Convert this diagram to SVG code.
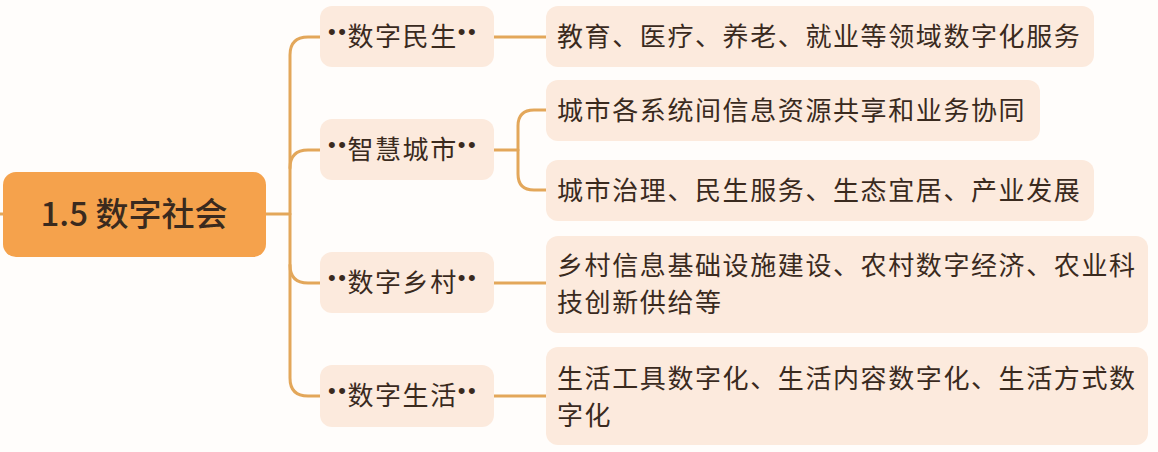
<svg xmlns="http://www.w3.org/2000/svg" width="1158" height="452" viewBox="0 0 1158 452">
<style>
.bg{fill:#fffdfb}
.root{fill:#f5a24c}
.n{fill:#fceadd}
.c{fill:none;stroke:#e3a75a;stroke-width:3;stroke-linecap:round}
text{font-family:"Noto Sans CJK SC","Noto Sans",sans-serif;fill:#3a2a1e}
.t1{font-size:26px;letter-spacing:1.6px}
.t2{font-size:26px;letter-spacing:1.6px}
.t0{font-size:33px;font-weight:500}
.d{font-family:"Liberation Sans",sans-serif;font-size:22px;letter-spacing:2.5px}
</style>
<rect class="bg" width="1158" height="452"/>
<g id="connectors">
<path class="c" d="M0 214 L4 214"/>
<path class="c" d="M266 214 L290 214"/>
<path class="c" d="M320 37 L308 37 Q290 37 290 55 L290 378 Q290 396 308 396 L320 396"/>
<path class="c" d="M290 168 Q290 150 308 150 L320 150"/>
<path class="c" d="M290 265 Q290 283 308 283 L320 283"/>
<path class="c" d="M494 37 L546 37"/>
<path class="c" d="M494 150 L518 150"/>
<path class="c" d="M546 110 L534 110 Q518 110 518 126 L518 174 Q518 190 534 190 L546 190"/>
<path class="c" d="M494 283 L546 283"/>
<path class="c" d="M494 396 L546 396"/>
</g>
<g id="root">
<rect class="root" x="3" y="172" width="263" height="85" rx="13"/>
<text class="t0" x="134" y="226" text-anchor="middle">1.5 数字社会</text>
</g>
<g id="n1">
<rect class="n" x="320" y="6" width="174" height="61" rx="12"/>
<text class="t1" x="328" y="46"><tspan class="d" dy="-7">••</tspan><tspan dy="7" dx="-1">数字民生</tspan><tspan class="d" dy="-7">••</tspan></text>
</g>
<g id="n2">
<rect class="n" x="320" y="119" width="174" height="61" rx="12"/>
<text class="t1" x="328" y="159"><tspan class="d" dy="-7">••</tspan><tspan dy="7" dx="-1">智慧城市</tspan><tspan class="d" dy="-7">••</tspan></text>
</g>
<g id="n3">
<rect class="n" x="320" y="252" width="174" height="61" rx="12"/>
<text class="t1" x="328" y="292"><tspan class="d" dy="-7">••</tspan><tspan dy="7" dx="-1">数字乡村</tspan><tspan class="d" dy="-7">••</tspan></text>
</g>
<g id="n4">
<rect class="n" x="320" y="365" width="174" height="62" rx="12"/>
<text class="t1" x="328" y="405"><tspan class="d" dy="-7">••</tspan><tspan dy="7" dx="-1">数字生活</tspan><tspan class="d" dy="-7">••</tspan></text>
</g>
<g id="l1">
<rect class="n" x="546" y="6" width="548" height="61" rx="12"/>
<text class="t2" x="557" y="46">教育、医疗、养老、就业等领域数字化服务</text>
</g>
<g id="l2">
<rect class="n" x="546" y="80" width="494" height="61" rx="12"/>
<text class="t2" x="557" y="120">城市各系统间信息资源共享和业务协同</text>
</g>
<g id="l3">
<rect class="n" x="546" y="160" width="548" height="61" rx="12"/>
<text class="t2" x="557" y="200">城市治理、民生服务、生态宜居、产业发展</text>
</g>
<g id="l4">
<rect class="n" x="546" y="236" width="602" height="97" rx="12"/>
<text class="t2" x="557" y="275">乡村信息基础设施建设、农村数字经济、农业科</text>
<text class="t2" x="557" y="312">技创新供给等</text>
</g>
<g id="l5">
<rect class="n" x="546" y="347" width="602" height="98" rx="12"/>
<text class="t2" x="557" y="388">生活工具数字化、生活内容数字化、生活方式数</text>
<text class="t2" x="557" y="425">字化</text>
</g>
</svg>
